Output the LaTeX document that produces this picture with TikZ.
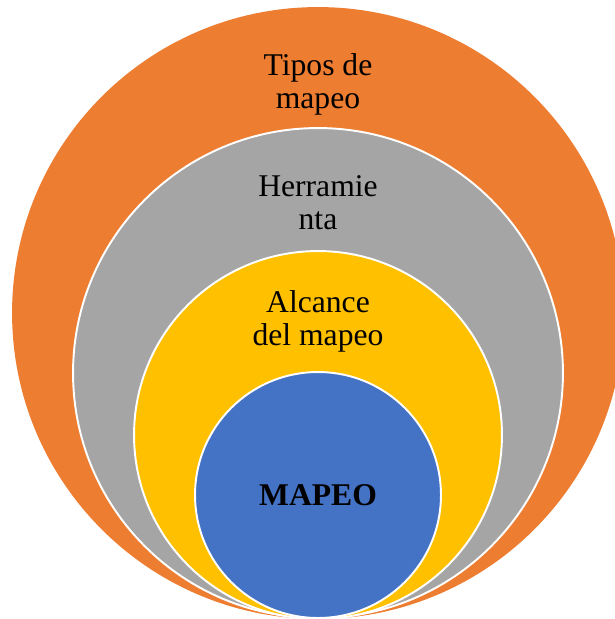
\documentclass[tikz,border=0pt]{standalone}
\usepackage{fontspec}
\setmainfont{Liberation Serif}
\usetikzlibrary{positioning}
\definecolor{capaNaranja}{HTML}{ED7D31}
\definecolor{capaGris}{HTML}{A5A5A5}
\definecolor{capaAmarilla}{HTML}{FFC000}
\definecolor{capaAzul}{HTML}{4472C4}
\tikzset{
	capa/.style={circle, inner sep=0pt, draw=white, line width=1.1pt},
	rotulo/.style={align=center, text=black, font=\fontsize{18pt}{18.8pt}\selectfont}
}

\begin{document}
\begin{tikzpicture}[x=0.02cm, y=-0.02cm]
			%%%%% START %%%%%
			\useasboundingbox (0, 0) rectangle (615, 619);
			\clip (0, 0) rectangle (615, 619);
			
			\node[capa, fill=capaNaranja, draw=none, minimum size=12.24cm] (tipos) at (318, 313) {};
			\node[capa, fill=capaGris, minimum size=9.8cm] (herramienta) at (318, 373) {};
			\node[capa, fill=capaAmarilla, minimum size=7.36cm] (alcance) at (318, 435) {};
			\node[capa, fill=capaAzul, minimum size=4.92cm] (mapeo) at (318, 495) {};
			
			\node[rotulo] (tiposTxt) at (318, 84) {Tipos de\\mapeo};
			\node[rotulo] (herramientaTxt) at (318, 203) {Herramie\\nta};
			\node[rotulo] (alcanceTxt) at (318, 321) {Alcance\\del mapeo};
			\node[rotulo, font=\fontsize{18pt}{18.8pt}\selectfont\bfseries] (mapeoTxt) at (mapeo) {MAPEO};
			
			%%%%% END %%%%%
		\end{tikzpicture}
\end{document}
